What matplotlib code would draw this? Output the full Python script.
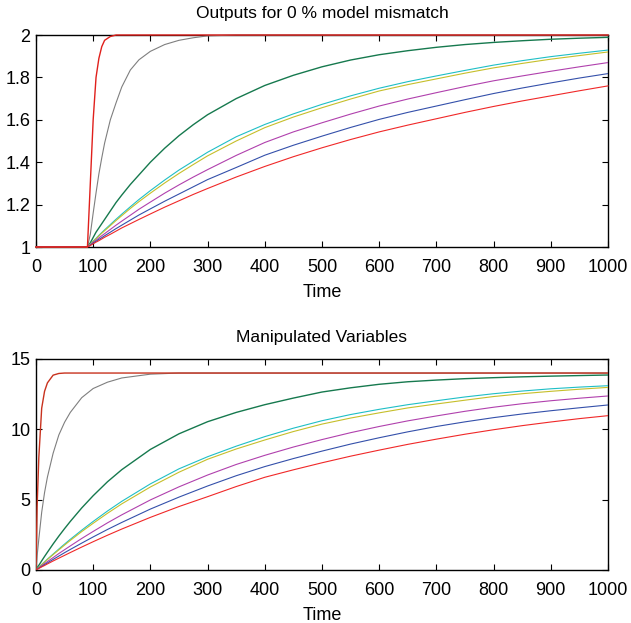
import matplotlib
matplotlib.use("Agg")
from matplotlib import pyplot as plt

plt.rcParams['font.family'] = ['Liberation Sans', 'DejaVu Sans']
plt.rcParams['font.size'] = 13

# outputs (top plot)
t_out = [0, 90, 95, 100, 105, 110, 115, 120, 130, 140, 150, 165, 180, 200,
         225, 250, 275, 300, 350, 400, 450, 500, 550, 600, 650, 700, 750, 800,
         850, 900, 950, 1000]
y_fast = [1, 1, 1.30, 1.60, 1.80, 1.89, 1.945, 1.975, 1.993, 2.0, 2.0, 2.0, 2.0,
          2.0, 2.0, 2.0, 2.0, 2.0, 2.0, 2.0, 2.0, 2.0, 2.0, 2.0, 2.0, 2.0, 2.0,
          2.0, 2.0, 2.0, 2.0, 2.0]
y_gray = [1, 1, 1.06, 1.16, 1.255, 1.345, 1.42, 1.49, 1.60, 1.68, 1.755, 1.835,
          1.883, 1.923, 1.955, 1.975, 1.987, 1.996, 2.0, 2.0, 2.0, 2.0, 2.0, 2.0,
          2.0, 2.0, 2.0, 2.0, 2.0, 2.0, 2.0, 2.0]
y_green = [1, 1, 1.02, 1.045, 1.07, 1.09, 1.11, 1.13, 1.17, 1.21, 1.245, 1.295,
           1.34, 1.40, 1.466, 1.525, 1.577, 1.624, 1.70, 1.762, 1.81, 1.85, 1.882,
           1.907, 1.926, 1.942, 1.955, 1.965, 1.973, 1.98, 1.985, 1.989]
y_cyan = [1, 1, 1.014, 1.028, 1.041, 1.055, 1.068, 1.081, 1.106, 1.131, 1.155,
          1.19, 1.224, 1.266, 1.316, 1.363, 1.405, 1.447, 1.52, 1.578, 1.628,
          1.673, 1.713, 1.749, 1.78, 1.807, 1.833, 1.858, 1.879, 1.898, 1.914, 1.929]
y_yellow = [1, 1, 1.013, 1.026, 1.039, 1.052, 1.065, 1.077, 1.101, 1.125, 1.148,
            1.182, 1.214, 1.254, 1.302, 1.347, 1.389, 1.43, 1.50, 1.563, 1.613,
            1.657, 1.698, 1.736, 1.766, 1.793, 1.82, 1.845, 1.866, 1.886, 1.903, 1.92]
y_magenta = [1, 1, 1.011, 1.022, 1.032, 1.043, 1.053, 1.063, 1.083, 1.103, 1.122,
             1.15, 1.178, 1.212, 1.254, 1.293, 1.33, 1.365, 1.432, 1.493, 1.543,
             1.586, 1.627, 1.665, 1.698, 1.728, 1.757, 1.784, 1.807, 1.829, 1.85, 1.87]
y_blue = [1, 1, 1.009, 1.018, 1.027, 1.036, 1.044, 1.053, 1.07, 1.087, 1.103,
          1.127, 1.151, 1.18, 1.216, 1.25, 1.284, 1.318, 1.375, 1.433, 1.48,
          1.523, 1.564, 1.602, 1.635, 1.665, 1.695, 1.724, 1.75, 1.774, 1.797, 1.818]
y_red = [1, 1, 1.007, 1.015, 1.023, 1.03, 1.038, 1.046, 1.06, 1.075, 1.09, 1.11,
         1.13, 1.156, 1.188, 1.218, 1.248, 1.276, 1.33, 1.38, 1.426, 1.468,
         1.507, 1.543, 1.575, 1.605, 1.635, 1.663, 1.689, 1.713, 1.737, 1.76]

# manipulated variables (bottom plot)
t_mv = [0, 2, 5, 10, 15, 20, 30, 40, 50, 60, 80, 100, 125, 150, 200, 250, 300,
        350, 400, 450, 500, 550, 600, 650, 700, 750, 800, 850, 900, 950, 1000]
u_fast = [0, 4.5, 8.0, 11.5, 12.7, 13.3, 13.85, 13.97, 14.0, 14.0, 14.0, 14.0,
          14.0, 14.0, 14.0, 14.0, 14.0, 14.0, 14.0, 14.0, 14.0, 14.0, 14.0, 14.0,
          14.0, 14.0, 14.0, 14.0, 14.0, 14.0, 14.0]
u_gray = [0, 1.0, 2.2, 4.1, 5.5, 6.6, 8.3, 9.6, 10.5, 11.2, 12.25, 12.9, 13.35,
          13.65, 13.92, 14.0, 14.0, 14.0, 14.0, 14.0, 14.0, 14.0, 14.0, 14.0,
          14.0, 14.0, 14.0, 14.0, 14.0, 14.0, 14.0]
u_green = [0, 0.15, 0.33, 0.65, 0.96, 1.26, 1.85, 2.41, 2.94, 3.45, 4.41, 5.28,
           6.27, 7.13, 8.57, 9.68, 10.54, 11.2, 11.75, 12.22, 12.65, 12.95, 13.2,
           13.38, 13.5, 13.6, 13.67, 13.73, 13.78, 13.82, 13.86]
u_cyan = [0, 0.08, 0.2, 0.39, 0.58, 0.77, 1.13, 1.49, 1.84, 2.18, 2.83, 3.45,
          4.19, 4.88, 6.12, 7.19, 8.05, 8.8, 9.48, 10.08, 10.61, 11.05, 11.42,
          11.75, 12.03, 12.3, 12.53, 12.72, 12.88, 13.0, 13.1]
u_yellow = [0, 0.08, 0.19, 0.37, 0.56, 0.74, 1.09, 1.43, 1.77, 2.1, 2.73, 3.32,
            4.03, 4.7, 5.9, 6.95, 7.87, 8.6, 9.24, 9.84, 10.37, 10.8, 11.17,
            11.52, 11.8, 12.07, 12.33, 12.53, 12.7, 12.85, 12.98]
u_magenta = [0, 0.06, 0.15, 0.3, 0.45, 0.6, 0.88, 1.17, 1.44, 1.71, 2.24, 2.74,
             3.35, 3.92, 4.98, 5.91, 6.75, 7.5, 8.15, 8.74, 9.27, 9.76, 10.2,
             10.6, 10.95, 11.28, 11.57, 11.82, 12.03, 12.21, 12.37]
u_blue = [0, 0.05, 0.13, 0.25, 0.38, 0.5, 0.75, 0.99, 1.23, 1.46, 1.91, 2.35,
          2.88, 3.38, 4.33, 5.18, 5.97, 6.7, 7.35, 7.92, 8.45, 8.95, 9.4, 9.82,
          10.2, 10.53, 10.83, 11.09, 11.32, 11.53, 11.73]
u_red = [0, 0.04, 0.11, 0.22, 0.32, 0.43, 0.64, 0.84, 1.04, 1.24, 1.63, 2.01,
         2.47, 2.91, 3.74, 4.51, 5.21, 5.93, 6.59, 7.12, 7.62, 8.09, 8.52, 8.93,
         9.3, 9.65, 9.97, 10.26, 10.52, 10.76, 10.97]

x_ticks = [0, 100, 200, 300, 400, 500, 600, 700, 800, 900, 1000]

fig = plt.figure(figsize=(6.31, 6.23), dpi=100)
ax1 = fig.add_axes([0.057, 0.6035, 0.9065, 0.3403])
ax2 = fig.add_axes([0.057, 0.0851, 0.9065, 0.3387])

def style(ax):
    ax.set_xlim(0, 1000)
    ax.set_xticks(x_ticks)
    ax.tick_params(direction='in', length=4, width=0.8, top=True, right=True,
                   labelsize=13)
    ax.tick_params(axis='x', pad=8.5)
    ax.tick_params(axis='y', pad=4)
    for s in ax.spines.values():
        s.set_linewidth(1.0)
    ax.set_xlabel('Time', labelpad=6, fontsize=13)

lw = 0.8
# top plot
ax1.plot(t_out, y_gray, color='#7f7f7f', lw=lw, zorder=3, clip_on=False)
ax1.plot(t_out, y_green, color='#16794e', lw=1.0, zorder=3, clip_on=False)
ax1.plot(t_out, y_cyan, color='#1fbfc6', lw=lw, zorder=3)
ax1.plot(t_out, y_yellow, color='#c6bf2a', lw=lw, zorder=3)
ax1.plot(t_out, y_magenta, color='#b040ad', lw=lw, zorder=3)
ax1.plot(t_out, y_blue, color='#3450aa', lw=lw, zorder=3)
ax1.plot(t_out, y_red, color='#f02828', lw=lw, zorder=3, clip_on=False)
ax1.plot(t_out, y_fast, color='#e0201c', lw=1.0, zorder=3, clip_on=False)
style(ax1)
ax1.set_ylim(1, 2)
ax1.set_yticks([1, 1.2, 1.4, 1.6, 1.8, 2])
ax1.set_yticklabels(['1', '1.2', '1.4', '1.6', '1.8', '2'])
ax1.set_title('Outputs for 0 % model mismatch', fontsize=12.5, pad=12)

# bottom plot
ax2.plot(t_mv, u_gray, color='#7f7f7f', lw=lw, zorder=3)
ax2.plot(t_mv, u_green, color='#16794e', lw=1.0, zorder=3)
ax2.plot(t_mv, u_cyan, color='#1fbfc6', lw=lw, zorder=3)
ax2.plot(t_mv, u_yellow, color='#c6bf2a', lw=lw, zorder=3)
ax2.plot(t_mv, u_magenta, color='#b040ad', lw=lw, zorder=3)
ax2.plot(t_mv, u_blue, color='#3450aa', lw=lw, zorder=3)
ax2.plot(t_mv, u_red, color='#f02828', lw=lw, zorder=3)
ax2.plot(t_mv, u_fast, color='#c8321e', lw=1.0, zorder=3)
style(ax2)
ax2.set_ylim(0, 15)
ax2.set_yticks([0, 5, 10, 15])
ax2.set_title('Manipulated Variables', fontsize=12.5, pad=12)

fig.savefig('out.png', dpi=100)
